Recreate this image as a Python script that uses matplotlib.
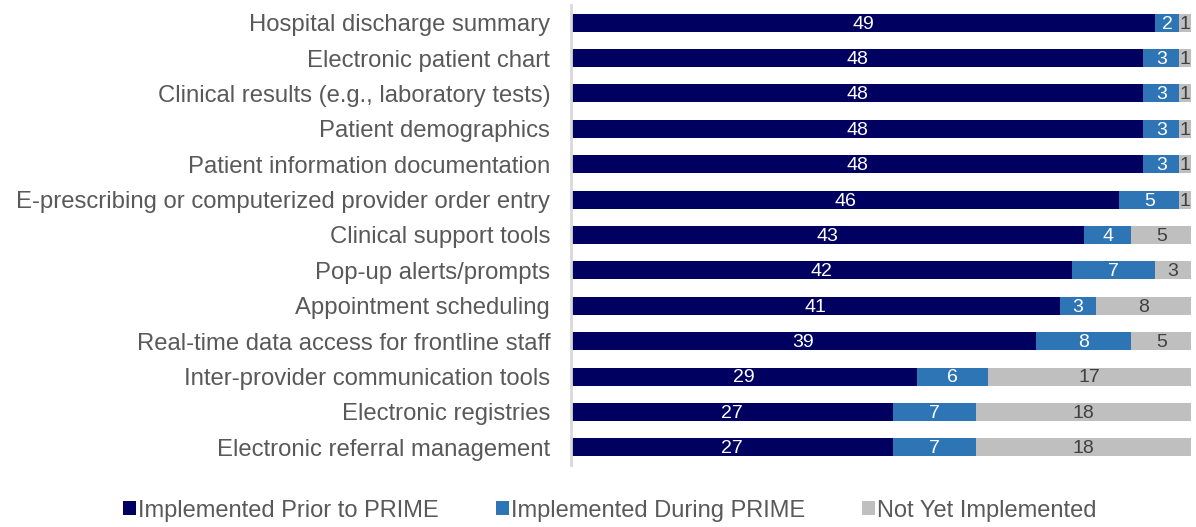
import matplotlib.pyplot as plt
import numpy as np

plt.rcParams['font.family'] = ['Liberation Sans', 'DejaVu Sans']

categories = [
    'Hospital discharge summary',
    'Electronic patient chart',
    'Clinical results (e.g., laboratory tests)',
    'Patient demographics',
    'Patient information documentation',
    'E-prescribing or computerized provider order entry',
    'Clinical support tools',
    'Pop-up alerts/prompts',
    'Appointment scheduling',
    'Real-time data access for frontline staff',
    'Inter-provider communication tools',
    'Electronic registries',
    'Electronic referral management',
]
prior = [49, 48, 48, 48, 48, 46, 43, 42, 41, 39, 29, 27, 27]
during = [2, 3, 3, 3, 3, 5, 4, 7, 3, 8, 6, 7, 7]
not_yet = [1, 1, 1, 1, 1, 1, 5, 3, 8, 5, 17, 18, 18]

series = [
    ('Implemented Prior to PRIME', prior, '#000060', 'white'),
    ('Implemented During PRIME', during, '#2E75B6', 'white'),
    ('Not Yet Implemented', not_yet, '#BFBFBF', '#404040'),
]

fig = plt.figure(figsize=(11.96, 5.27), dpi=100)
ax = fig.add_axes([571 / 1196, 62 / 527, 620 / 1196, 460 / 527])

y = np.arange(len(categories))
left = np.zeros(len(categories))
for name, vals, color, tcolor in series:
    vals = np.array(vals)
    ax.barh(y, vals, left=left, height=0.51, color=color, label=name)
    for yi, l, v in zip(y, left, vals):
        ax.text(l + v / 2, yi + 0.04, str(v), ha='center', va='center',
                color=tcolor, fontsize=14)
    left = left + vals

ax.set_xlim(0, 52)
ax.set_ylim(len(categories) - 0.5, -0.5)
ax.set_yticks(y)
ax.set_yticklabels(categories, fontsize=17.2, color='#595959')
ax.tick_params(axis='y', length=0, pad=15)
ax.set_xticks([])
for s in ['top', 'right', 'bottom']:
    ax.spines[s].set_visible(False)
ax.spines['left'].set_color('#D9D9D9')
ax.spines['left'].set_linewidth(2)

leg = fig.legend(loc='lower center', bbox_to_anchor=(0.51, -0.03), ncol=3,
                 frameon=False, fontsize=17, handlelength=0.55, handleheight=0.55,
                 handletextpad=0.1, columnspacing=2.4)
for t in leg.get_texts():
    t.set_color('#595959')

fig.savefig('out.png', dpi=100)
